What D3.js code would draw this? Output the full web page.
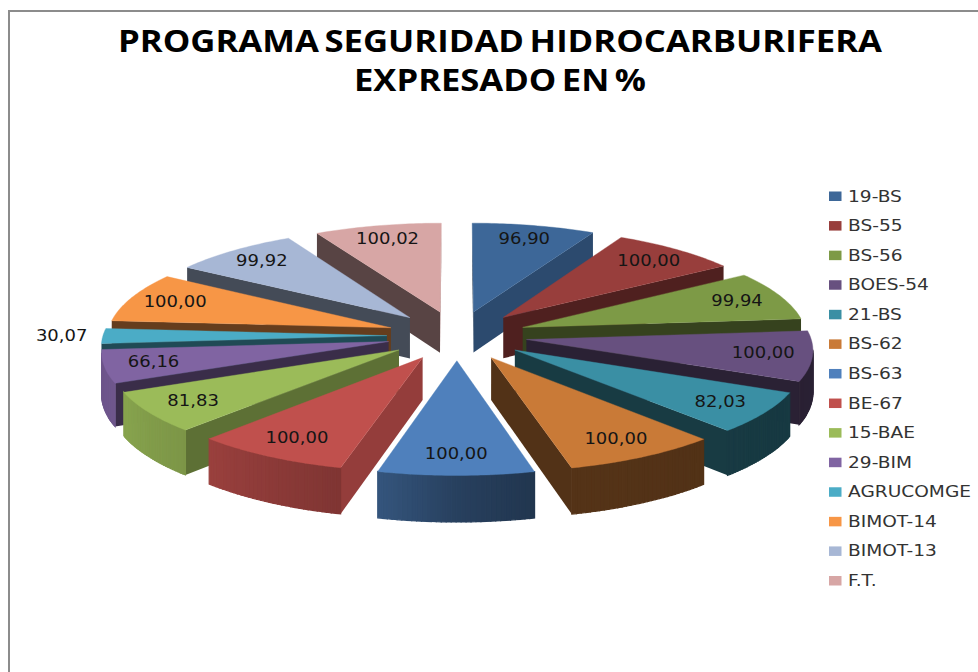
<!DOCTYPE html>
<html>
<head>
<meta charset="utf-8">
<script src="https://cdn.jsdelivr.net/npm/d3@7"></script>
<style>
html,body{margin:0;padding:0;background:#fff;overflow:hidden}
svg{display:block}
</style>
</head>
<body>
<svg id="chart" width="978" height="672"></svg>
<script>
const categories = ["19-BS","BS-55","BS-56","BOES-54","21-BS","BS-62","BS-63","BE-67","15-BAE","29-BIM","AGRUCOMGE","BIMOT-14","BIMOT-13","F.T."];
const values = [96.90,100.00,99.94,100.00,82.03,100.00,100.00,100.00,81.83,66.16,30.07,100.00,99.92,100.02];
const valueLabels = ["96,90","100,00","99,94","100,00","82,03","100,00","100,00","100,00","81,83","66,16","30,07","100,00","99,92","100,02"];
const topColors = ["#3d6798","#983e3c","#7d9a46","#67507f","#3a8fa4","#c97a37","#4f80bc","#c0504d","#9bbb59","#8064a2","#4bacc6","#f79646","#a7b7d5","#d7a6a5"];
const titleLines = ["PROGRAMA SEGURIDAD HIDROCARBURIFERA","EXPRESADO EN %"];

const svg = d3.select("#chart");

// frame
svg.append("path").attr("d","M9,672V11H978").attr("fill","none").attr("stroke","#8c8c8c").attr("stroke-width",2);

// title
const titleWidths = [764,292];
svg.selectAll("text.title").data(titleLines).join("text")
  .attr("class","title")
  .attr("x",500).attr("y",(d,i)=>52+i*39)
  .attr("text-anchor","middle")
  .attr("font-family","'Open Sans'").attr("font-weight",700).attr("font-size",30)
  .attr("word-spacing",-3)
  .attr("fill","#000")
  .attr("textLength",(d,i)=>titleWidths[i]).attr("lengthAdjust","spacingAndGlyphs")
  .text(d=>d);

// projection of the pie plane: u right, v toward viewer, both normalised to the exploded radius
const cx = 457, cy = 335.5, rx = 354, ry = 125, persp = 0.107, depth = 41.5;
const explode = 0.198, radius = 1 - explode;
const project = (u,v,down=0) => {
  const s = 1/(1 - persp*v);
  return [cx + rx*u*s, cy + (ry*v + down)*s];
};
const polar = (a,r,m) => {
  const ox = explode*Math.sin(m), oy = -explode*Math.cos(m);
  return [ox + r*Math.sin(a), oy - r*Math.cos(a)];
};

const wallShade = d3.scaleLinear()
  .domain([90,104,118,133,146,156,175,184,255,270])
  .range([.8,.77,.72,.6,.52,.45,.43,.41,.41,.41]).clamp(true);
const rimShade = d3.scaleLinear()
  .domain([90,120,166,180,194,223,245,270])
  .range([.42,.40,.42,.5,.66,.8,.87,.85]).clamp(true);
const tint = (c,f) => { const k=d3.rgb(c); return d3.rgb(k.r*f,k.g*f,k.b*f).formatHex(); };
const norm = a => (a%360+360)%360;
const deg = a => a*180/Math.PI;
const line = d3.line();

const arcs = d3.pie().sort(null).startAngle(0).endAngle(2*Math.PI)(values);
const mid = d => (d.startAngle+d.endAngle)/2;
const order = d3.range(arcs.length).sort((p,q)=>Math.cos(mid(arcs[q]))-Math.cos(mid(arcs[p])));

const pieG = svg.append("g");
const face = (pts,col,seam) => {
  if (d3.polygonArea(pts) <= 0) return;
  const p = pieG.append("path").attr("d",line(pts)+"Z").attr("fill",col);
  if (seam) p.attr("stroke",col).attr("stroke-width",1.2);
};

order.forEach(i=>{
  const a = arcs[i], col = topColors[i], m = mid(a);
  const steps = 32;
  const rim = d3.range(steps+1).map(k=>a.startAngle+(a.endAngle-a.startAngle)*k/steps);
  const apex = polar(0,0,m);
  const P = (uv,down)=>project(uv[0],uv[1],down);
  const first = polar(a.startAngle,radius,m), last = polar(a.endAngle,radius,m);
  face([P(apex,0),P(first,0),P(first,depth),P(apex,depth)],
       tint(col,wallShade(norm(deg(a.startAngle)-90))));
  face([P(last,0),P(apex,0),P(apex,depth),P(last,depth)],
       tint(col,wallShade(norm(deg(a.endAngle)+90))));
  d3.pairs(rim).forEach(([t0,t1])=>{
    const p0 = polar(t0,radius,m), p1 = polar(t1,radius,m);
    face([P(p0,0),P(p1,0),P(p1,depth),P(p0,depth)],
         tint(col,rimShade(norm(deg((t0+t1)/2)))),true);
  });
  pieG.append("path")
    .attr("d",line([P(apex,0),...rim.map(t=>P(polar(t,radius,m),0))])+"Z")
    .attr("fill",col).attr("stroke",col).attr("stroke-width",.4);
});

// stretched text, the reference was widened horizontally
const stretch = 1.2, legendStretch = 1.24;
// data labels
const labelG = svg.append("g");
arcs.forEach((a,i)=>{
  const m = mid(a);
  const frac = values[i] < 50 ? 1.145 : 0.83;
  const uv = polar(m,radius*frac,m);
  const [x,y] = project(uv[0],uv[1],0);
  labelG.append("text")
    .attr("transform",`translate(${x},${y+5}) scale(${stretch},1)`)
    .attr("text-anchor","middle")
    .attr("font-family","'DejaVu Sans'").attr("font-size",15)
    .attr("fill","#151515").text(valueLabels[i]);
});

// legend
const legendY = d3.scalePoint().domain(categories).range([196.5,581]);
const legend = svg.append("g").selectAll("g").data(categories).join("g")
  .attr("transform",d=>`translate(829,${legendY(d)})`);
legend.append("rect").attr("x",0).attr("y",-5).attr("width",12.5).attr("height",9.5)
  .attr("fill",(d,i)=>topColors[i]);
legend.append("text")
  .attr("transform",`translate(19,5) scale(${legendStretch},1)`)
  .attr("font-family","'DejaVu Sans'").attr("font-size",15)
  .attr("fill","#333").text(d=>d);
</script>
</body>
</html>
